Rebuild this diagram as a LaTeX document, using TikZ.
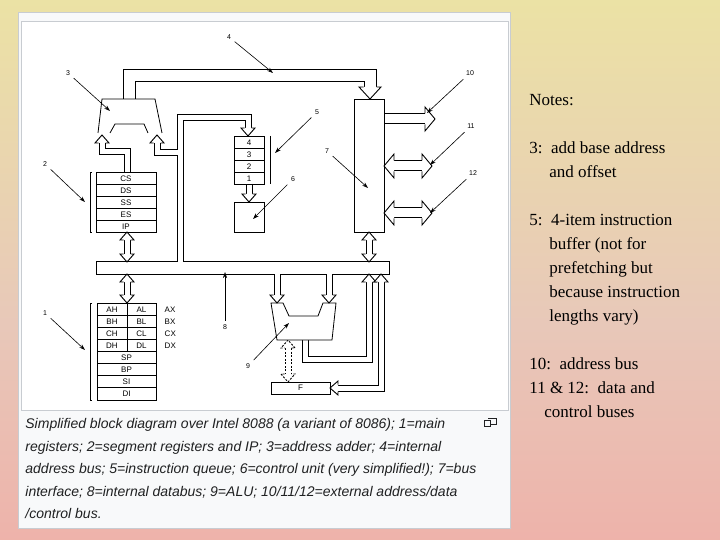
\documentclass[tikz,border=0pt]{standalone}
\usepackage{fontspec}
\setmainfont{Liberation Serif}
\newfontfamily\sansf{Liberation Sans}
\usetikzlibrary{arrows.meta}
\definecolor{bgb}{RGB}{245,152,152}
\definecolor{bgm}{RGB}{232,200,185}
\definecolor{bgy}{RGB}{236,232,160}
\definecolor{bgt}{RGB}{205,210,172}
\pgfdeclareverticalshading{bgsh}{100bp}{color(0bp)=(bgb); color(45bp)=(bgm); color(82bp)=(bgy); color(100bp)=(bgt)}
\definecolor{capbg}{RGB}{248,249,250}
\definecolor{capfg}{RGB}{32,33,34}
\definecolor{frame}{RGB}{200,204,209}
\newcommand\hd[5]{\begin{scope}[shift={(#1,#2)},rotate=#3]
 \filldraw[fill=white,line width=0.9pt,line join=miter,#5] (-8,#4)--(-8,{2*#4})--(0,0)--(-8,{-2*#4})--(-8,-#4);\end{scope}}
\newcommand\busnet[4]{%
 \draw[#1] (127,172)--(127,152)--(102,152)--(102,143);
 \draw[#1] (180,153)--(157,153)--(157,143);
 \draw[#1] (180,262)--(180,118)--(248,118)--(248,128);
 \draw[#1] (249,184)--(249,194);
 \draw[#1] (127,240)--(127,254);
 \draw[#1] (127,282)--(127,295);
 \draw[#1] (277,274)--(277,295);
 \draw[#1] (329,274)--(329,295);
 \draw[#1] (305,340)--(305,359)--(369,359)--(369,282);
 \draw[#1] (381,282)--(381,388)--(338,388);
 \draw[#1] (369,240)--(369,254);
 \draw[#2] (129,99)--(129,76)--(370,76)--(370,87);
 \draw[#3] (384,119)--(425,119);
 \draw[#3] (394,166)--(422,166);
 \draw[#3] (394,213)--(422,213);
 \path[#4] (97,262) rectangle (389,274);}
\tikzset{lab/.style={font=\sansf\fontsize{7}{8}\selectfont},
 la/.style={-{Stealth[length=6pt,width=4pt]},line width=0.6pt},
 reg/.style={font=\sansf\fontsize{8}{9}\selectfont}}
\begin{document}
\begin{tikzpicture}[x=1pt,y=-1pt,line width=0.8pt]
\useasboundingbox (0,0) rectangle (720,540);
\shade[shading=bgsh] (0,0) rectangle (720,540);
\filldraw[fill=capbg,draw=frame,line width=0.8pt] (18,12) rectangle (510,528);
\filldraw[fill=white,draw=frame,line width=0.6pt] (21,21) rectangle (508,410);
% buses: two passes
\busnet{black,line width=7pt}{black,line width=13pt}{black,line width=11pt}{fill=black,draw=black,line width=2pt}
\busnet{white,line width=5pt}{white,line width=11pt}{white,line width=9pt}{fill=white}
% dashed arrow
\draw[dashed,dash pattern=on 2pt off 1.5pt,double=white,double distance=5pt,line width=1pt] (288,348)--(288,374);
\hd{288}{340}{90}{3.5}{dashed,dash pattern=on 2pt off 1.5pt}
\hd{288}{382}{270}{3.5}{dashed,dash pattern=on 2pt off 1.5pt}
% adder
\draw (98,133)--(102,99)--(155,99)--(162,133);
\draw (110,133)--(115,124)--(144,124)--(148,133);
% segment registers
\draw (96,172) rectangle (156,232);
\foreach \y/\t in {172/CS,184/DS,196/SS,208/ES,220/IP}{
 \draw (96,\y)--(156,\y); \node[reg] (s\t) at (126,\y+6.3) {\t};}
\draw[line width=0.6pt] (92,172)--(90,172)--(90,232)--(92,232);
% queue
\draw (234,136) rectangle (264,184);
\foreach \y/\t in {136/4,148/3,160/2,172/1}{
 \draw (234,\y)--(264,\y); \node[reg] (q\t) at (249,\y+6.3) {\t};}
\draw[line width=0.6pt] (270,136)--(270,184);
\node[draw,minimum width=30pt,minimum height=30pt,inner sep=0] (cu) at (249,217) {};
% BIU
\node[draw,minimum width=30pt,minimum height=133pt,inner sep=0] (biu) at (369,165.5) {};
% main registers
\draw (97,303) rectangle (156,400);
\foreach \i/\t/\a/\b in {0/AX/AH/AL,1/BX/BH/BL,2/CX/CH/CL,3/DX/DH/DL}{
 \pgfmathsetmacro\y{303+12.1*\i}
 \draw (97,\y)--(156,\y);
 \node[reg] (r\a) at (112,\y+6.3) {\a};
 \node[reg] (r\b) at (141.5,\y+6.3) {\b};
 \node[reg,anchor=west] (r\t) at (161,\y+6.3) {\t};}
\draw (127,303)--(127,351.4);
\foreach \i/\t in {4/SP,5/BP,6/SI,7/DI}{
 \pgfmathsetmacro\y{303+12.1*\i}
 \draw (97,\y)--(156,\y);
 \node[reg] (r\t) at (126.5,\y+6.3) {\t};}
\draw[line width=0.6pt] (92,303)--(90,303)--(90,400)--(92,400);
% ALU
\draw[fill=white] (271,303)--(283,303)--(289,316)--(318,316)--(323,303)--(336,303)--(332,340)--(277,340)--cycle;
% F
\node[draw,fill=white,minimum width=59pt,minimum height=12pt,inner sep=0,reg] (F) at (300.5,388) {F};
% heads
\hd{102}{135}{90}{3.5}{}
\hd{157}{135}{90}{3.5}{}
\hd{248}{136}{270}{3.5}{}
\hd{249}{202}{270}{3.5}{}
\hd{127}{232}{90}{3.5}{}
\hd{127}{262}{270}{3.5}{}
\hd{127}{274}{90}{3.5}{}
\hd{127}{303}{270}{3.5}{}
\hd{277}{303}{270}{3.5}{}
\hd{329}{303}{270}{3.5}{}
\hd{369}{274}{90}{3.5}{}
\hd{381}{274}{90}{3.5}{}
\hd{330}{388}{180}{3.5}{}
\hd{369}{232}{90}{3.5}{}
\hd{369}{262}{270}{3.5}{}
\begin{scope}[shift={(370,99)},rotate=270]\filldraw[fill=white,line join=miter,line width=0.9pt] (-12,6.5)--(-12,11)--(0,0)--(-12,-11)--(-12,-6.5);\end{scope}
\begin{scope}[shift={(435,119)}]\filldraw[fill=white,line join=miter,line width=0.9pt] (-10,5.5)--(-10,12)--(0,0)--(-10,-12)--(-10,-5.5);\end{scope}
\foreach \yy in {166,213}{
\begin{scope}[shift={(432,\yy)}]\filldraw[fill=white,line join=miter,line width=0.9pt] (-10,5.5)--(-10,12)--(0,0)--(-10,-12)--(-10,-5.5);\end{scope}
\begin{scope}[shift={(384,\yy)},rotate=180]\filldraw[fill=white,line join=miter,line width=0.9pt] (-10,5.5)--(-10,12)--(0,0)--(-10,-12)--(-10,-5.5);\end{scope}}
% labels
\node[lab] (l1) at (45,313) {1};
\node[lab] (l2) at (45,164) {2};
\node[lab] (l3) at (68,73) {3};
\node[lab] (l4) at (229,37) {4};
\node[lab] (l5) at (317,112) {5};
\node[lab] (l6) at (293,179) {6};
\node[lab] (l7) at (327,151) {7};
\node[lab] (l8) at (225,327) {8};
\node[lab] (l9) at (248,366) {9};
\node[lab] (l10) at (470,73) {10};
\node[lab] (l11) at (471,126) {11};
\node[lab] (l12) at (473,173) {12};
\coordinate (t1) at (85,350); \coordinate (t2) at (85,202); \coordinate (t3) at (110,111);
\coordinate (t4) at (273,73); \coordinate (t5) at (275,153); \coordinate (t6) at (253,219);
\coordinate (t7) at (368,188); \coordinate (t8) at (225,272); \coordinate (t9) at (289,323);
\coordinate (t10) at (427,113); \coordinate (t11) at (430,165); \coordinate (t12) at (430,213);
\foreach \n in {1,...,12}{\draw[la] (l\n)--(t\n);}
% caption
\node[anchor=north west,align=left,text=capfg,font=\sansf\itshape\fontsize{14}{22.6}\selectfont,inner sep=0] (cap) at (25,418)
{Simplified block diagram over Intel 8088 (a variant of 8086); 1=main\\registers; 2=segment registers and IP; 3=address adder; 4=internal\\address bus; 5=instruction queue; 6=control unit (very simplified!); 7=bus\\interface; 8=internal databus; 9=ALU; 10/11/12=external address/data\\/control bus.};
\draw[line width=0.7pt,capfg] (484,420) rectangle (490,426) (488,418)--(496,418)--(496,424)--(490,424);
% notes
\node[anchor=north west,align=left,inner sep=0,font=\fontsize{17}{24}\selectfont] (notes) at (529,94)
{Notes:\\[24pt]3:\ \ add base address\\\hspace{20pt}and offset\\[24pt]5:\ \ 4-item instruction\\\hspace{20pt}buffer (not for\\\hspace{20pt}prefetching but\\\hspace{20pt}because instruction\\\hspace{20pt}lengths vary)\\[24pt]10:\ \ address bus\\11 \& 12:\ \ data and\\\hspace{15pt}control buses};
\end{tikzpicture}
\end{document}
